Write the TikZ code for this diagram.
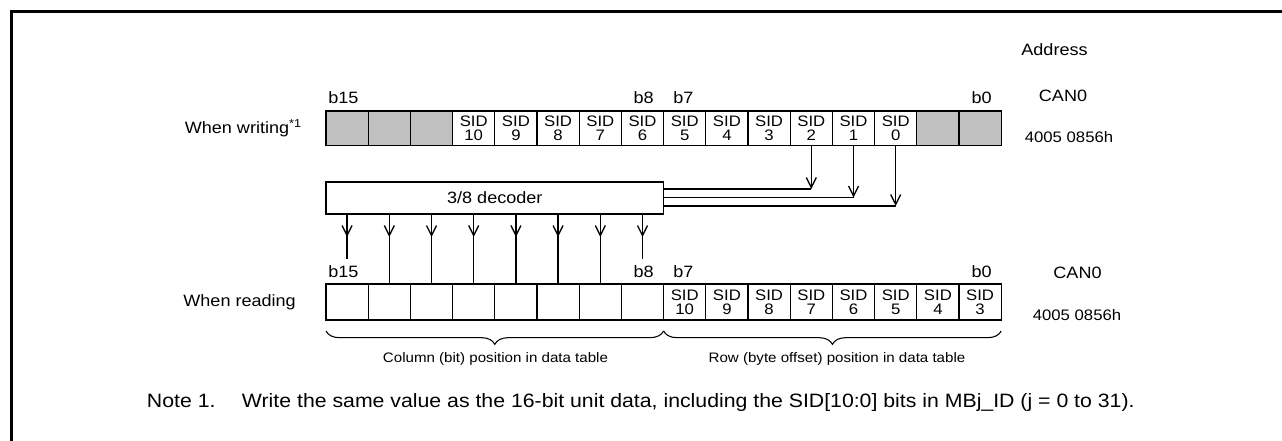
\documentclass[tikz,border=0pt]{standalone}
\usepackage{fontspec}
\setmainfont{Liberation Sans}[FakeStretch=1.1]
\usetikzlibrary{arrows.meta,decorations.pathreplacing}
\definecolor{cellgray}{RGB}{192,192,192}
\begin{document}
\begin{tikzpicture}[x=0.75pt,y=-0.75pt,
  cell/.style={draw,line width=1pt,inner sep=0pt,outer sep=0pt,
    minimum width=31.65pt,minimum height=25.8pt,anchor=north west,
    align=center,font=\fontsize{11.4}{10.6}\selectfont},
  gcell/.style={cell,fill=cellgray},
  lbl/.style={inner sep=0pt,font=\fontsize{12.3}{14}\selectfont},
  addr/.style={inner sep=0pt,font=\fontsize{11.4}{13}\selectfont},
  small/.style={inner sep=0pt,font=\fontsize{10.3}{12}\selectfont},
  note/.style={inner sep=0pt,font=\fontsize{14.5}{16}\selectfont,anchor=base west},
  wire/.style={line width=1pt},
  arr/.style={wire,-{Straight Barb[length=7.5pt,width=7.5pt,line width=1pt]}},
  brc/.style={line width=0.8pt,decorate,decoration={brace,amplitude=10pt}}]
\useasboundingbox (0,0) rectangle (1282,441);
% frame
\draw[line width=2pt] (11.3,441) -- (11.3,11.3) -- (1282,11.3);

% top register
\foreach \i in {0,1,2,14,15}
  \node[gcell] (t\i) at ({326+\i*42.2},111) {};
\foreach \i [evaluate=\i as \n using int(13-\i)] in {3,...,13}
  \node[cell] (t\i) at ({326+\i*42.2},111) {SID\\\n};

% bottom register
\foreach \i in {0,...,7}
  \node[cell,minimum height=27pt] (r\i) at ({326+\i*42.2},284) {};
\foreach \i [evaluate=\i as \n using int(18-\i)] in {8,...,15}
  \node[cell,minimum height=27pt] (r\i) at ({326+\i*42.2},284) {SID\\\n};

% bit labels
\node[lbl,anchor=west] (tb15) at (328,98) {b15};
\node[lbl,anchor=east] (tb8) at (654,98) {b8};
\node[lbl,anchor=west] (tb7) at (673,98) {b7};
\node[lbl,anchor=east] (tb0) at (992,98) {b0};
\node[lbl,anchor=west] (rb15) at (328,272) {b15};
\node[lbl,anchor=east] (rb8) at (654,272) {b8};
\node[lbl,anchor=west] (rb7) at (673,272) {b7};
\node[lbl,anchor=east] (rb0) at (992,272) {b0};

% row labels
\node[lbl,anchor=east] (lw) at (302,128) {When writing\textsuperscript{*1}};
\node[lbl,anchor=east] (lr) at (296,302) {When reading};

% address labels
\node[lbl] (addr) at (1054.5,50) {Address};
\node[lbl] (can1) at (1063,96) {CAN0};
\node[addr] (a1) at (1069,137) {4005 0856h};
\node[lbl] (can2) at (1077.5,273) {CAN0};
\node[addr] (a2) at (1077,315) {4005 0856h};

% decoder
\node[draw,line width=1pt,inner sep=0pt,outer sep=0pt,anchor=north west,
  minimum width=253.2pt,minimum height=24pt,font=\fontsize{12.3}{14}\selectfont]
  (dec) at (326,182) {3/8 decoder};

% decoder inputs
\coordinate (h11) at (0,189);
\coordinate (h12) at (0,197.5);
\coordinate (h13) at (0,206);
\foreach \i in {11,12,13} {
  \draw[wire] (dec.east |- h\i) -- (t\i.south |- h\i);
  \draw[arr] (t\i.south) -- (t\i.south |- h\i);
}

% decoder outputs
\foreach \i in {0,...,7}
  \draw[arr] (dec.south -| r\i.north) -- ++(0,23);
\foreach \i in {1,...,6}
  \draw[wire] (dec.south -| r\i.north) -- (r\i.north);
\foreach \i in {0,7}
  \draw[wire] (dec.south -| r\i.north) -- ++(0,45);

% braces
\draw[brc] ([yshift=-8.25pt]r7.south east) -- ([yshift=-8.25pt]r0.south west);
\draw[brc] ([yshift=-8.25pt]r15.south east) -- ([yshift=-8.25pt]r8.south west);
\node[small] (col) at (495.5,359) {Column (bit) position in data table};
\node[small] (row) at (837,359) {Row (byte offset) position in data table};

% note
\node[note] (n1) at (146.7,408) {Note 1.};
\node[note] (n2) at (241.7,408) {Write the same value as the 16-bit unit data, including the SID[10:0] bits in MBj\_ID (j = 0 to 31).};
\end{tikzpicture}
\end{document}
